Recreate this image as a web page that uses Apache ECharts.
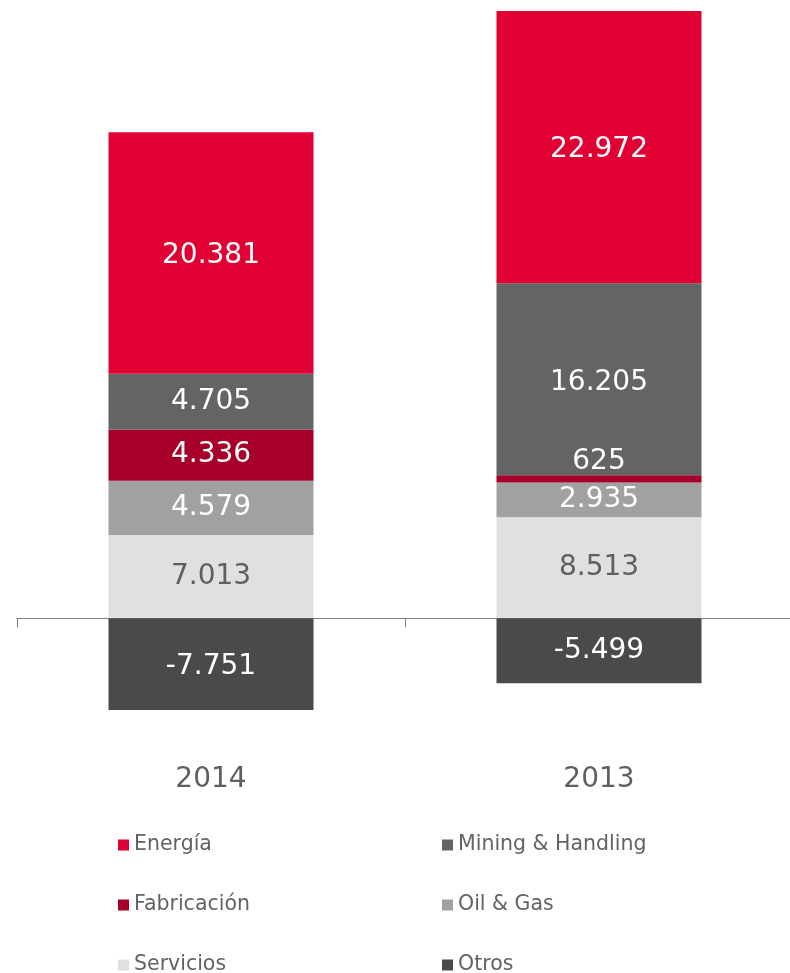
<!DOCTYPE html>
<html>
<head>
<meta charset="utf-8">
<script src="https://cdn.jsdelivr.net/npm/echarts@6/dist/echarts.min.js"></script>
<style>
html, body { margin: 0; padding: 0; background: #fff; overflow: hidden; }
#main { width: 800px; height: 973px; }
</style>
</head>
<body>
<div id="main"></div>
<script>
// categorias y valores por segmento
var years = ['2014', '2013'];
var servicios = [7013, 8513];
var oilGas = [4579, 2935];
var fabricacion = [4336, 625];
var mining = [4705, 16205];
var energia = [20381, 22972];
var otros = [-7751, -5499];

var myChart = echarts.init(document.getElementById('main'), null, { renderer: 'canvas' });

function fmt(v) {
    var s = Math.abs(v).toString();
    if (s.length > 3) s = s.slice(0, s.length - 3) + '.' + s.slice(-3);
    return (v < 0 ? '-' : '') + s;
}

var labelBase = {
    show: true,
    position: 'inside',
    fontFamily: 'DejaVu Sans',
    fontSize: 28,
    color: '#ffffff',
    formatter: function (p) { return fmt(p.value); }
};

function lbl(extra) {
    return Object.assign({}, labelBase, extra || {});
}

function mkSeries(name, data, color, labelExtra) {
    return {
        name: name,
        type: 'bar',
        stack: 'total',
        barWidth: 205,
        data: data,
        itemStyle: { color: color },
        label: lbl(labelExtra),
        emphasis: { disabled: true }
    };
}

var legendText = { fontFamily: 'DejaVu Sans', fontSize: 20.5, lineHeight: 22, color: '#636363' };

var option = {
    backgroundColor: '#ffffff',
    animation: false,
    // el eje se sale un poco por la derecha, como en el original
    grid: { left: 17, right: 7, top: 11, bottom: 263 },
    legend: [
        {
            orient: 'vertical', left: 113, top: 829, height: 200, itemGap: 38,
            itemWidth: 11, itemHeight: 11, icon: 'rect',
            textStyle: legendText,
            data: ['Energía', 'Fabricación', 'Servicios']
        },
        {
            orient: 'vertical', left: 437, top: 829, height: 200, itemGap: 38,
            itemWidth: 11, itemHeight: 11, icon: 'rect',
            textStyle: legendText,
            data: ['Mining & Handling', 'Oil & Gas', 'Otros']
        }
    ],
    xAxis: [
        {
            type: 'category',
            data: years,
            axisLine: { onZero: true, lineStyle: { color: '#808080', width: 1 } },
            axisTick: { show: true, length: 9, lineStyle: { color: '#808080' } },
            axisLabel: { show: false }
        },
        {
            type: 'category',
            data: years,
            position: 'bottom',
            axisLine: { show: false },
            axisTick: { show: false },
            axisLabel: {
                show: true, margin: 56,
                fontFamily: 'DejaVu Sans', fontSize: 28, color: '#5f5f5f'
            }
        }
    ],
    yAxis: {
        type: 'value',
        min: -7751,
        max: 51250,
        show: false,
        splitLine: { show: false }
    },
    series: [
        mkSeries('Servicios', servicios, '#dfe0df', { color: '#5f5f5f' }),
        mkSeries('Oil & Gas', oilGas, '#a0a1a3'),
        {
            name: 'Fabricación',
            type: 'bar',
            stack: 'total',
            barWidth: 205,
            itemStyle: { color: '#a6002a' },
            emphasis: { disabled: true },
            label: labelBase,
            data: [
                fabricacion[0],
                { value: fabricacion[1], label: lbl({ position: 'top', distance: -1 }) }
            ]
        },
        {
            name: 'Mining & Handling',
            type: 'bar',
            stack: 'total',
            barWidth: 205,
            itemStyle: { color: '#636466' },
            emphasis: { disabled: true },
            label: labelBase,
            data: [
                mining[0],
                { value: mining[1], label: lbl({ offset: [0, 4] }) }
            ]
        },
        mkSeries('Energía', energia, '#e00034', { offset: [0, 3] }),
        {
            name: 'Otros',
            type: 'bar',
            stack: 'total',
            barWidth: 205,
            itemStyle: { color: '#4a4a4c' },
            emphasis: { disabled: true },
            label: labelBase,
            data: [
                { value: otros[0], label: lbl({ offset: [0, 3] }) },
                otros[1]
            ]
        }
    ]
};

myChart.setOption(option);
</script>
</body>
</html>
